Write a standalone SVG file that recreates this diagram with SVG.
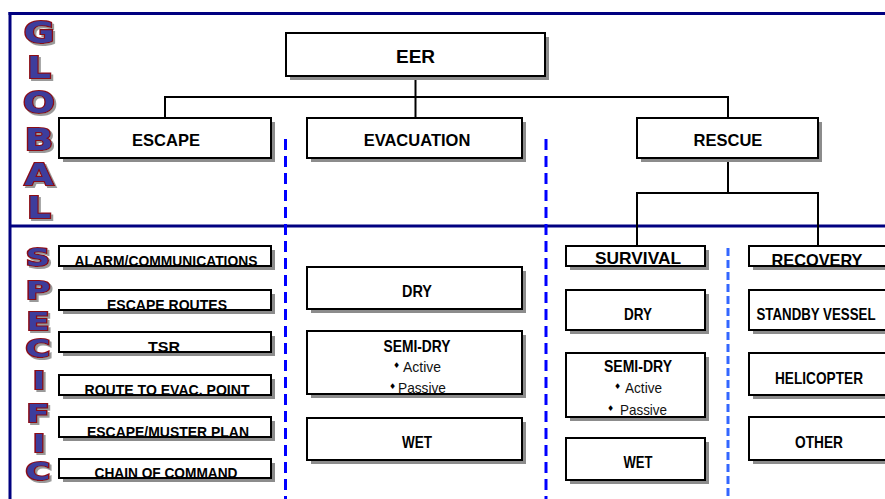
<svg xmlns="http://www.w3.org/2000/svg" width="885" height="499" viewBox="0 0 885 499">
<defs>
<filter id="ds" x="-30%" y="-30%" width="160%" height="160%"><feDropShadow dx="2" dy="2" stdDeviation="0.6" flood-color="#9a9a9a"/></filter>
</defs>
<style>
.frame{stroke:#000080;stroke-width:3;fill:none}
.box{fill:#fff;stroke:#000;stroke-width:2}
.sh{fill:#8c8c8c}
.t{font-family:"Liberation Sans",Arial,sans-serif;font-weight:bold;text-anchor:middle;fill:#000}
.tm{font-size:16.5px}
.tn{font-size:15px}
.tr{font-family:"Liberation Sans",Arial,sans-serif;font-size:15px;fill:#111}
.bul{font-family:"DejaVu Sans",sans-serif;font-size:8px;fill:#000}
.conn{stroke:#000;stroke-width:2;fill:none}
.dash1{stroke:#0000ff;stroke-width:3;stroke-dasharray:11 6;fill:none}
.dash2{stroke:#3366ff;stroke-width:3;stroke-dasharray:8 4;fill:none}
.big{font-family:"DejaVu Sans",sans-serif;font-weight:900;text-anchor:middle;fill:#3c3c9c;stroke:#8b0a14;stroke-width:2.2;paint-order:stroke;filter:url(#ds)}
.g{font-size:30px}
.s{font-size:25px}
</style>

<g id="frame">
<line class="frame" x1="8.5" y1="13.5" x2="885" y2="13.5"/>
<line class="frame" x1="10" y1="12" x2="10" y2="499"/>
<line class="frame" x1="10" y1="226" x2="885" y2="226"/>
</g>

<g id="side-letters">
<g class="big g">
<text transform="translate(39,43) scale(1.25,1)">G</text>
<text transform="translate(39,78) scale(1.25,1)">L</text>
<text transform="translate(39,113) scale(1.25,1)">O</text>
<text transform="translate(39,150) scale(1.25,1)">B</text>
<text transform="translate(39,185) scale(1.25,1)">A</text>
<text transform="translate(39,218) scale(1.25,1)">L</text>
</g>
<g class="big s">
<text transform="translate(38,266) scale(1.35,1)">S</text>
<text transform="translate(38,299) scale(1.35,1)">P</text>
<text transform="translate(38,330) scale(1.35,1)">E</text>
<text transform="translate(38,357) scale(1.35,1)">C</text>
<text transform="translate(39,389) scale(1.35,1)">I</text>
<text transform="translate(38,422) scale(1.35,1)">F</text>
<text transform="translate(39,452) scale(1.35,1)">I</text>
<text transform="translate(38,480) scale(1.35,1)">C</text>
</g>
</g>

<g id="dividers">
<line class="dash1" x1="285.5" y1="139" x2="285.5" y2="499"/>
<line class="dash1" x1="546" y1="139" x2="546" y2="499"/>
<line class="dash2" x1="728" y1="248" x2="728" y2="499"/>
</g>

<g id="connectors">
<path class="conn" d="M415.5,76 V97"/>
<path class="conn" d="M165,97 H728"/>
<path class="conn" d="M165,96 V118 M415.5,97 V118 M728,96 V118"/>
<path class="conn" d="M728,158 V193 M637,193 H818 M637,192 V246 M818,192 V246"/>
</g>

<g id="n-eer"><rect class="sh" x="290" y="37" width="259" height="43"/><rect class="box" x="286" y="33" width="259" height="43"/><text class="t" style="font-size:19px" x="415.5" y="63">EER</text></g>
<g id="n-escape"><rect class="sh" x="63" y="122" width="212" height="40"/><rect class="box" x="59" y="118" width="212" height="40"/><text class="t tm" x="166" y="146">ESCAPE</text></g>
<g id="n-evacuation"><rect class="sh" x="311" y="122" width="215" height="40"/><rect class="box" x="307" y="118" width="215" height="40"/><text class="t tm" x="417" y="146">EVACUATION</text></g>
<g id="n-rescue"><rect class="sh" x="641" y="122" width="181" height="40"/><rect class="box" x="637" y="118" width="181" height="40"/><text class="t tm" x="728" y="146">RESCUE</text></g>

<g id="n-alarm"><rect class="sh" x="63" y="250" width="212" height="20"/><rect class="box" x="59" y="246" width="212" height="20"/><text class="t tn" x="166" y="266" textLength="183" lengthAdjust="spacingAndGlyphs">ALARM/COMMUNICATIONS</text></g>
<g id="n-routes"><rect class="sh" x="63" y="294" width="212" height="20"/><rect class="box" x="59" y="290" width="212" height="20"/><text class="t tn" x="167" y="310" textLength="120" lengthAdjust="spacingAndGlyphs">ESCAPE ROUTES</text></g>
<g id="n-tsr"><rect class="sh" x="63" y="336" width="212" height="20"/><rect class="box" x="59" y="332" width="212" height="20"/><text class="t tn" x="164" y="352" textLength="32" lengthAdjust="spacingAndGlyphs">TSR</text></g>
<g id="n-route-evac"><rect class="sh" x="63" y="379" width="212" height="20"/><rect class="box" x="59" y="375" width="212" height="20"/><text class="t tn" x="167" y="395" textLength="165" lengthAdjust="spacingAndGlyphs">ROUTE TO EVAC. POINT</text></g>
<g id="n-muster"><rect class="sh" x="63" y="421" width="212" height="20"/><rect class="box" x="59" y="417" width="212" height="20"/><text class="t tn" x="168" y="437" textLength="162" lengthAdjust="spacingAndGlyphs">ESCAPE/MUSTER PLAN</text></g>
<g id="n-command"><rect class="sh" x="63" y="463" width="212" height="19"/><rect class="box" x="59" y="459" width="212" height="19"/><text class="t tn" x="166" y="478" textLength="143" lengthAdjust="spacingAndGlyphs">CHAIN OF COMMAND</text></g>

<g id="n-evac-dry"><rect class="sh" x="311" y="271" width="215" height="42"/><rect class="box" x="307" y="267" width="215" height="42"/><text class="t tm" x="417" y="297" textLength="30" lengthAdjust="spacingAndGlyphs">DRY</text></g>
<g id="n-evac-semidry"><rect class="sh" x="311" y="335" width="215" height="63"/><rect class="box" x="307" y="331" width="215" height="63"/><text class="t tm" x="417" y="352" textLength="67" lengthAdjust="spacingAndGlyphs">SEMI-DRY</text><text class="bul" x="393" y="368">♦</text><text class="tr" x="403" y="372" textLength="38" lengthAdjust="spacingAndGlyphs">Active</text><text class="bul" x="389" y="389">♦</text><text class="tr" x="398" y="393" textLength="48" lengthAdjust="spacingAndGlyphs">Passive</text></g>
<g id="n-evac-wet"><rect class="sh" x="311" y="422" width="215" height="42"/><rect class="box" x="307" y="418" width="215" height="42"/><text class="t tm" x="417" y="448" textLength="30" lengthAdjust="spacingAndGlyphs">WET</text></g>

<g id="n-survival"><rect class="sh" x="570" y="250" width="139" height="20"/><rect class="box" x="566" y="246" width="139" height="20"/><text class="t tm" x="638" y="264" textLength="86" lengthAdjust="spacingAndGlyphs">SURVIVAL</text></g>
<g id="n-surv-dry"><rect class="sh" x="570" y="294" width="139" height="40"/><rect class="box" x="566" y="290" width="139" height="40"/><text class="t tm" x="638" y="320" textLength="28" lengthAdjust="spacingAndGlyphs">DRY</text></g>
<g id="n-surv-semidry"><rect class="sh" x="570" y="357" width="139" height="64"/><rect class="box" x="566" y="353" width="139" height="64"/><text class="t tm" x="638" y="372" textLength="68" lengthAdjust="spacingAndGlyphs">SEMI-DRY</text><text class="bul" x="614" y="389">♦</text><text class="tr" x="625" y="393" textLength="37" lengthAdjust="spacingAndGlyphs">Active</text><text class="bul" x="607" y="411">♦</text><text class="tr" x="620" y="415" textLength="47" lengthAdjust="spacingAndGlyphs">Passive</text></g>
<g id="n-surv-wet"><rect class="sh" x="570" y="442" width="139" height="42"/><rect class="box" x="566" y="438" width="139" height="42"/><text class="t tm" x="638" y="468" textLength="29" lengthAdjust="spacingAndGlyphs">WET</text></g>

<g id="n-recovery"><rect class="sh" x="753" y="250" width="150" height="20"/><rect class="box" x="749" y="246" width="150" height="20"/><text class="t tm" x="817" y="266" textLength="91" lengthAdjust="spacingAndGlyphs">RECOVERY</text></g>
<g id="n-standby"><rect class="sh" x="753" y="294" width="150" height="40"/><rect class="box" x="749" y="290" width="150" height="40"/><text class="t tm" x="816" y="320" textLength="119" lengthAdjust="spacingAndGlyphs">STANDBY VESSEL</text></g>
<g id="n-helicopter"><rect class="sh" x="753" y="357" width="150" height="42"/><rect class="box" x="749" y="353" width="150" height="42"/><text class="t tm" x="819" y="384" textLength="88" lengthAdjust="spacingAndGlyphs">HELICOPTER</text></g>
<g id="n-other"><rect class="sh" x="753" y="421" width="150" height="43"/><rect class="box" x="749" y="417" width="150" height="43"/><text class="t tm" x="819" y="448" textLength="48" lengthAdjust="spacingAndGlyphs">OTHER</text></g>
</svg>
